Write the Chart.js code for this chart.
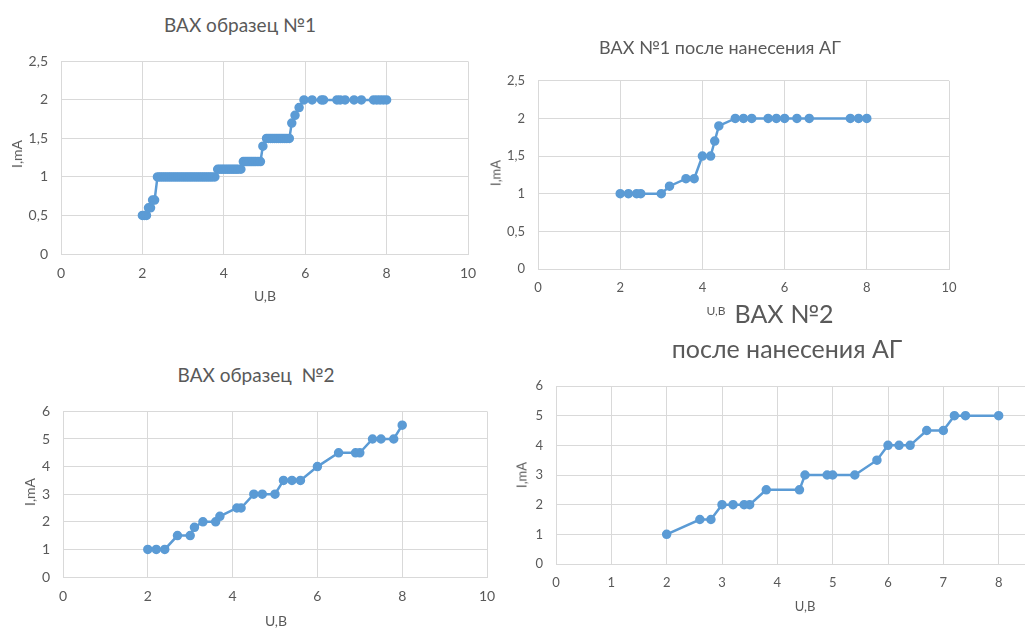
<!DOCTYPE html>
<html>
<head>
<meta charset="utf-8">
<script src="https://cdn.jsdelivr.net/npm/chart.js@4.4.1/dist/chart.umd.min.js"></script>
<style>
  html, body { margin: 0; padding: 0; background: #fff; overflow: hidden; }
  body { width: 1025px; height: 628px; position: relative; font-family: Lato, "Open Sans", sans-serif; color: #595959; }
  canvas { position: absolute; }
  .lbl { position: absolute; transform: translate(-50%, -50%); white-space: pre; line-height: 1; }
  .rot { transform: translate(-50%, -50%) rotate(-90deg); }
</style>
</head>
<body>
<canvas id="chart1" width="490" height="270" style="left:0;top:40px"></canvas>
<canvas id="chart2" width="490" height="250" style="left:480px;top:60px"></canvas>
<canvas id="chart3" width="510" height="238" style="left:0;top:390px"></canvas>
<canvas id="chart4" width="575" height="320" style="left:500px;top:300px"></canvas>

<div class="lbl" style="left:240px;top:24px;font-size:19px">ВАХ образец №1</div>
<div class="lbl" style="left:265px;top:296px;font-size:14px">U,В</div>
<div class="lbl rot" style="left:17px;top:154px;font-size:14px">I,mA</div>

<div class="lbl" style="left:720px;top:47px;font-size:18px">ВАХ №1 после нанесения АГ</div>
<div class="lbl" style="left:716px;top:311px;font-size:12px">U,В</div>
<div class="lbl rot" style="left:496px;top:173px;font-size:13px">I,mA</div>

<div class="lbl" style="left:256px;top:374px;font-size:19px">ВАХ образец  №2</div>
<div class="lbl" style="left:276px;top:621px;font-size:14px">U,В</div>
<div class="lbl rot" style="left:30px;top:492px;font-size:14px">I,mA</div>

<div class="lbl" style="left:784px;top:313px;font-size:25px">ВАХ №2</div>
<div class="lbl" style="left:787px;top:348px;font-size:25px">после нанесения АГ</div>
<div class="lbl" style="left:805px;top:606px;font-size:13px">U,В</div>
<div class="lbl rot" style="left:522px;top:475px;font-size:13px">I,mA</div>

<script>
// ВАХ образец №1
const sample1U = [2.0, 2.05, 2.1, 2.15, 2.2, 2.25, 2.3, 2.37, 2.42, 2.47, 2.52, 2.57, 2.62, 2.67, 2.72, 2.77,
  2.82, 2.87, 2.92, 2.97, 3.02, 3.07, 3.12, 3.17, 3.22, 3.27, 3.32, 3.37, 3.42, 3.47, 3.52, 3.57, 3.62, 3.67,
  3.72, 3.78, 3.85, 3.9, 3.95, 4.0, 4.05, 4.1, 4.15, 4.2, 4.25, 4.3, 4.35, 4.42, 4.48, 4.53, 4.58, 4.63, 4.68,
  4.73, 4.78, 4.84, 4.9, 4.96, 5.05, 5.1, 5.15, 5.2, 5.25, 5.3, 5.35, 5.4, 5.45, 5.5, 5.55, 5.61, 5.67, 5.75,
  5.85, 5.97, 6.17, 6.4, 6.45, 6.78, 6.86, 6.98, 7.2, 7.38, 7.68, 7.76, 7.84, 7.92, 8.0];
const sample1I = [0.5, 0.5, 0.5, 0.6, 0.6, 0.7, 0.7, 1.0, 1.0, 1.0, 1.0, 1.0, 1.0, 1.0, 1.0, 1.0,
  1.0, 1.0, 1.0, 1.0, 1.0, 1.0, 1.0, 1.0, 1.0, 1.0, 1.0, 1.0, 1.0, 1.0, 1.0, 1.0, 1.0, 1.0,
  1.0, 1.0, 1.1, 1.1, 1.1, 1.1, 1.1, 1.1, 1.1, 1.1, 1.1, 1.1, 1.1, 1.1, 1.2, 1.2, 1.2, 1.2, 1.2,
  1.2, 1.2, 1.2, 1.2, 1.4, 1.5, 1.5, 1.5, 1.5, 1.5, 1.5, 1.5, 1.5, 1.5, 1.5, 1.5, 1.5, 1.7, 1.8,
  1.9, 2.0, 2.0, 2.0, 2.0, 2.0, 2.0, 2.0, 2.0, 2.0, 2.0, 2.0, 2.0, 2.0, 2.0];

// ВАХ №1 после нанесения АГ
const sample1agU = [2.0, 2.2, 2.4, 2.5, 3.0, 3.2, 3.6, 3.8, 4.0, 4.2, 4.3, 4.4, 4.8, 5.0, 5.2, 5.6, 5.8, 6.0, 6.3, 6.6, 7.6, 7.8, 8.0];
const sample1agI = [1.0, 1.0, 1.0, 1.0, 1.0, 1.1, 1.2, 1.2, 1.5, 1.5, 1.7, 1.9, 2.0, 2.0, 2.0, 2.0, 2.0, 2.0, 2.0, 2.0, 2.0, 2.0, 2.0];

// ВАХ образец №2
const sample2U = [2.0, 2.2, 2.4, 2.7, 3.0, 3.1, 3.3, 3.6, 3.7, 4.1, 4.2, 4.5, 4.7, 5.0, 5.2, 5.4, 5.6, 6.0, 6.5, 6.9, 7.0, 7.3, 7.5, 7.8, 8.0];
const sample2I = [1.0, 1.0, 1.0, 1.5, 1.5, 1.8, 2.0, 2.0, 2.2, 2.5, 2.5, 3.0, 3.0, 3.0, 3.5, 3.5, 3.5, 4.0, 4.5, 4.5, 4.5, 5.0, 5.0, 5.0, 5.5];

// ВАХ №2 после нанесения АГ
const sample2agU = [2.0, 2.6, 2.8, 3.0, 3.2, 3.4, 3.5, 3.8, 4.4, 4.5, 4.9, 5.0, 5.4, 5.8, 6.0, 6.2, 6.4, 6.7, 7.0, 7.2, 7.4, 8.0];
const sample2agI = [1.0, 1.5, 1.5, 2.0, 2.0, 2.0, 2.0, 2.5, 2.5, 3.0, 3.0, 3.0, 3.0, 3.5, 4.0, 4.0, 4.0, 4.5, 4.5, 5.0, 5.0, 5.0];

const blue = '#5B9BD5';
const grid = '#D9D9D9';
const textColor = '#595959';

const makeChart = (id, xs, ys, cfg) => {
  const points = xs.map((x, i) => ({ x: x, y: ys[i] }));
  return new Chart(document.getElementById(id), {
    type: 'scatter',
    data: {
      datasets: [{
        data: points,
        showLine: true,
        borderColor: blue,
        backgroundColor: blue,
        borderWidth: 2.5,
        pointRadius: 3.5,
        pointHoverRadius: 3.5,
      }],
    },
    options: {
      responsive: false,
      animation: false,
      events: [],
      layout: { padding: { left: 0, top: cfg.padTop, right: cfg.padRight, bottom: 0 } },
      plugins: { legend: { display: false }, tooltip: { enabled: false } },
      scales: {
        x: {
          type: 'linear',
          min: 0,
          max: cfg.xMax,
          ticks: {
            stepSize: cfg.xStep,
            padding: 11,
            color: textColor,
            font: { family: 'Lato', size: cfg.fontSize },
            maxRotation: 0,
          },
          grid: { color: grid, drawTicks: false },
          border: { color: grid },
          afterFit: (scale) => { scale.height = cfg.xHeight; },
        },
        y: {
          min: 0,
          max: cfg.yMax,
          ticks: {
            stepSize: cfg.yStep,
            padding: 13,
            color: textColor,
            font: { family: 'Lato', size: cfg.fontSize },
            callback: (v) => String(v).replace('.', ','),
          },
          grid: { color: grid, drawTicks: false },
          border: { color: grid },
          afterFit: (scale) => { scale.width = cfg.yWidth; },
        },
      },
    },
  });
};

makeChart('chart1', sample1U, sample1I, { padTop: 17, padRight: 22, xHeight: 56, yWidth: 61, xMax: 10, xStep: 2, yMax: 2.5, yStep: 0.5, fontSize: 14 });
makeChart('chart2', sample1agU, sample1agI, { padTop: 20, padRight: 21, xHeight: 41, yWidth: 58, xMax: 10, xStep: 2, yMax: 2.5, yStep: 0.5, fontSize: 13 });
makeChart('chart3', sample2U, sample2I, { padTop: 17, padRight: 23, xHeight: 51, yWidth: 63, xMax: 10, xStep: 2, yMax: 6, yStep: 1, fontSize: 14 });
makeChart('chart4', sample2agU, sample2agI, { padTop: 86, padRight: 21, xHeight: 56, yWidth: 56, xMax: 9, xStep: 1, yMax: 6, yStep: 1, fontSize: 13 });
</script>
</body>
</html>
